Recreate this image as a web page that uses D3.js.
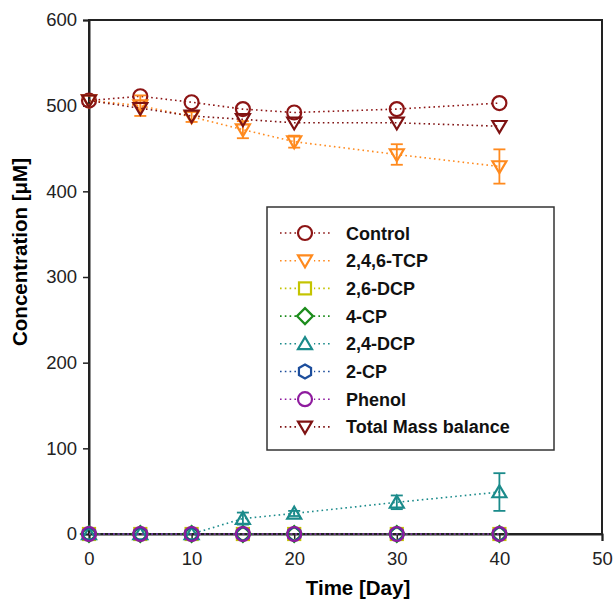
<!DOCTYPE html>
<meta charset="utf-8">
<title>Concentration vs time</title>
<script src="https://cdn.jsdelivr.net/npm/d3@7"></script>
<style>
  body { margin: 0; background: #fff; }
  text { font-family: "Liberation Sans", Arial, sans-serif; }
</style>
<body>
<script>

// data
var days = [0, 5, 10, 15, 20, 30, 40];
var seriesNames = ["Control", "2,4,6-TCP", "2,6-DCP", "4-CP", "2,4-DCP", "2-CP", "Phenol", "Total Mass balance"];
var control = [506, 511, 504, 496, 492, 496, 503];
var tcp = [506, 500, 487, 472, 458, 443, 429];
var tcpErr = [0, 12, 6, 10, 7, 12, 20];
var dcp26 = [0, 0, 0, 0, 0, 0, 0];
var cp4 = [0, 0, 0, 0, 0, 0, 0];
var dcp24 = [0, 0, 0, 18, 24, 37, 49];
var dcp24Err = [0, 0, 0, 7, 3, 8, 22];
var cp2 = [0, 0, 0, 0, 0, 0, 0];
var phenol = [0, 0, 0, 0, 0, 0, 0];
var total = [506, 497, 488, 484, 480, 480, 476];
var xTicks = [0, 10, 20, 30, 40, 50];
var yTicks = [0, 100, 200, 300, 400, 500, 600];

var colors = ["#8c1414", "#ff8a1e", "#c4c400", "#1c8c1c", "#1b8b8b", "#1d4e9c", "#8e1b9e", "#7e1212"];
var shapes = ["circle", "tdown", "square", "diamond", "tup", "hex", "circle", "tdown"];
var values = [control, tcp, dcp26, cp4, dcp24, cp2, phenol, total];
var errors = [null, tcpErr, null, null, dcp24Err, null, null, null];

var W = 615, H = 602;
var m = {left: 89, right: 602, top: 20, bottom: 534};

var svg = d3.select("body").append("svg")
  .attr("width", W)
  .attr("height", H);

var x = d3.scaleLinear().domain([0, 50]).range([m.left, m.right]);
var y = d3.scaleLinear().domain([0, 600]).range([m.bottom, m.top]);

// frame
svg.append("rect")
  .attr("x", m.left).attr("y", m.top)
  .attr("width", m.right - m.left).attr("height", m.bottom - m.top)
  .attr("fill", "none").attr("stroke", "#222").attr("stroke-width", 2);

var yAxis = svg.append("g")
  .attr("transform", "translate(" + m.left + ",0)")
  .call(d3.axisLeft(y).tickValues(yTicks).tickSize(6).tickPadding(6));
var xAxis = svg.append("g")
  .attr("transform", "translate(0," + m.bottom + ")")
  .call(d3.axisBottom(x).tickValues(xTicks).tickSize(7).tickPadding(11));
[xAxis, yAxis].forEach(function (a) {
  a.select(".domain").attr("stroke", "#222").attr("stroke-width", 2);
  a.selectAll(".tick line").attr("stroke", "#222").attr("stroke-width", 1.5);
  a.selectAll(".tick text").attr("font-size", 18.5).attr("fill", "#222")
    .style("font-family", "Liberation Sans, Arial, sans-serif");
});

svg.append("text")
  .attr("x", 358).attr("y", 595)
  .attr("text-anchor", "middle")
  .attr("font-size", 20.5).attr("font-weight", "bold")
  .text("Time [Day]");
svg.append("text")
  .attr("transform", "translate(27,252) rotate(-90)")
  .attr("text-anchor", "middle")
  .attr("font-size", 20.5).attr("font-weight", "bold")
  .text("Concentration [\u03bcM]");

function marker(g, shape, color, r) {
  var p;
  if (shape == "circle") {
    p = g.append("circle").attr("r", r);
  } else if (shape == "square") {
    p = g.append("rect").attr("x", -r + 1).attr("y", -r + 1).attr("width", 2 * r - 2).attr("height", 2 * r - 2);
  } else {
    var pts;
    if (shape == "tdown") pts = [[-r, -r * 0.75], [r, -r * 0.75], [0, r * 0.95]];
    else if (shape == "tup") pts = [[-r, r * 0.75], [r, r * 0.75], [0, -r * 0.95]];
    else if (shape == "diamond") pts = [[0, -r - 1], [r + 1, 0], [0, r + 1], [-r - 1, 0]];
    else pts = d3.range(6).map(function (i) {
      var a = Math.PI / 3 * i;
      return [r * Math.sin(a), -r * Math.cos(a)];
    });
    p = g.append("polygon").attr("points", pts.map(function (d) { return d.join(","); }).join(" "));
  }
  p.attr("fill", "none").attr("stroke", color).attr("stroke-width", 2.2);
}

var line = d3.line()
  .x(function (d) { return x(d[0]); })
  .y(function (d) { return y(d[1]); });

seriesNames.forEach(function (name, s) {
  var pts = days.map(function (d, i) { return [d, values[s][i]]; });
  var g = svg.append("g");
  g.append("path")
    .attr("d", line(pts))
    .attr("fill", "none")
    .attr("stroke", colors[s])
    .attr("stroke-width", 1.6)
    .attr("stroke-dasharray", "1.6,3.2");
  if (errors[s]) {
    days.forEach(function (d, i) {
      var e = errors[s][i];
      if (!e) return;
      var eg = g.append("g").attr("stroke", colors[s]).attr("stroke-width", 1.8);
      eg.append("line").attr("x1", x(d)).attr("x2", x(d))
        .attr("y1", y(values[s][i] - e)).attr("y2", y(values[s][i] + e));
      [-e, e].forEach(function (k) {
        eg.append("line").attr("x1", x(d) - 6).attr("x2", x(d) + 6)
          .attr("y1", y(values[s][i] + k)).attr("y2", y(values[s][i] + k));
      });
    });
  }
  days.forEach(function (d, i) {
    var mg = g.append("g").attr("transform", "translate(" + x(d) + "," + y(values[s][i]) + ")");
    marker(mg, shapes[s], colors[s], 7);
  });
});

// legend
var lg = svg.append("g");
lg.append("rect")
  .attr("x", 267).attr("y", 207)
  .attr("width", 287).attr("height", 243)
  .attr("fill", "#fff").attr("stroke", "#333").attr("stroke-width", 1.5);
seriesNames.forEach(function (name, s) {
  var ly = 233 + s * 27.7;
  lg.append("line")
    .attr("x1", 280).attr("x2", 330)
    .attr("y1", ly).attr("y2", ly)
    .attr("stroke", colors[s]).attr("stroke-width", 1.6)
    .attr("stroke-dasharray", "1.6,3.2");
  var mg = lg.append("g").attr("transform", "translate(305," + ly + ")");
  mg.append("rect").attr("x", -9).attr("y", -9).attr("width", 18).attr("height", 18).attr("fill", "#fff");
  marker(mg, shapes[s], colors[s], 7);
  lg.append("text")
    .attr("x", 346).attr("y", ly + 6.5)
    .attr("font-size", 18).attr("font-weight", "bold").attr("fill", "#111")
    .text(name);
});

</script>
</body>
